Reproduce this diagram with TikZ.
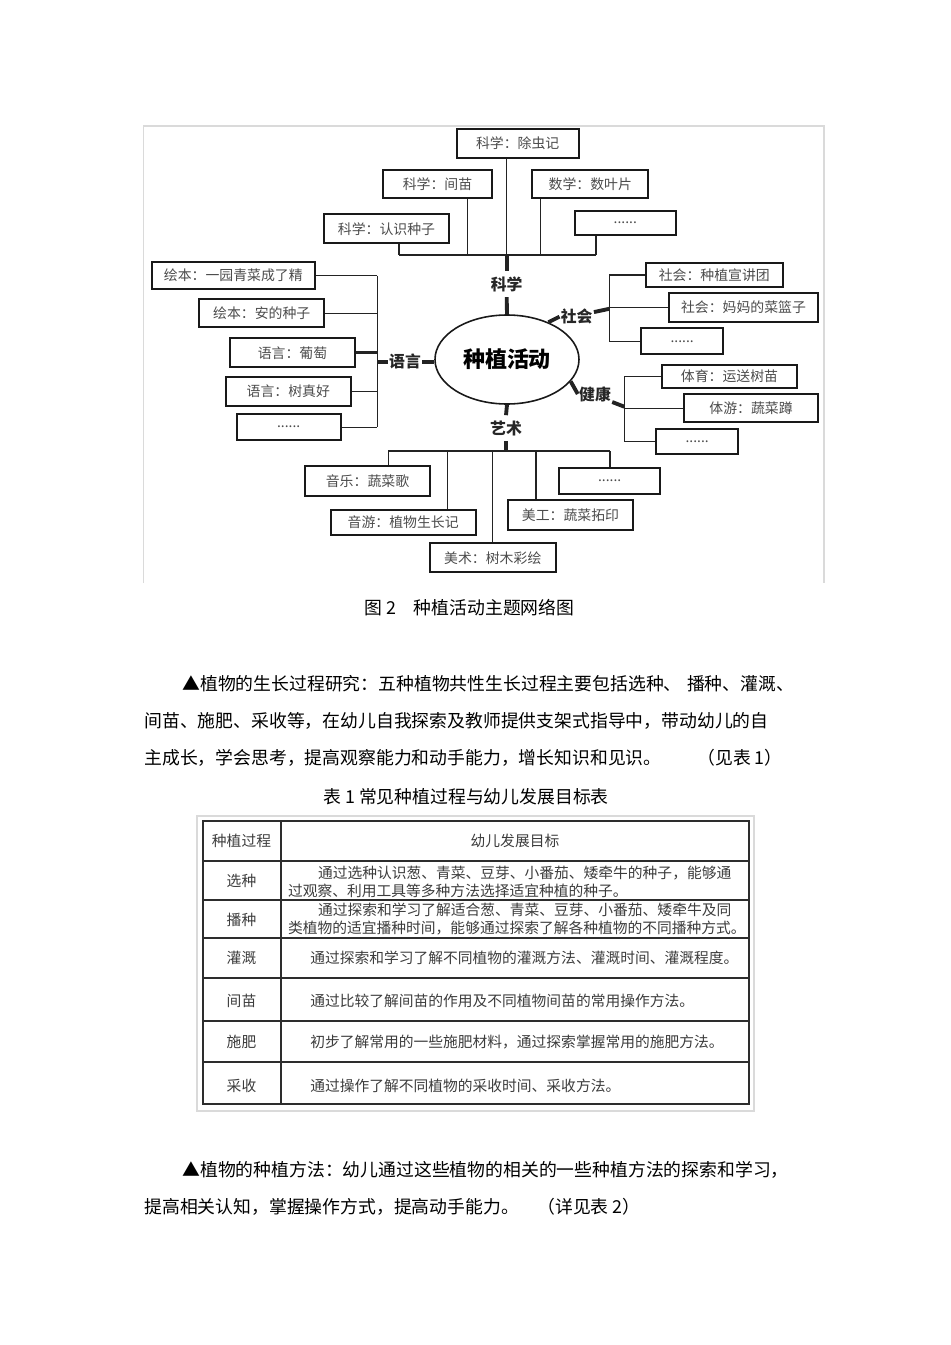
\documentclass[tikz,border=0pt]{standalone}
\usepackage{fontspec}
\setmainfont{Noto Sans CJK SC}
\usetikzlibrary{
  shapes.geometric,
  positioning,
  calc
}
\definecolor{boxline}{RGB}{25, 25, 25}
\definecolor{boxtext}{RGB}{75, 75, 75}
\definecolor{linkcolor}{RGB}{35, 35, 35}
\definecolor{framecolor}{RGB}{218, 218, 218}
\definecolor{tabletext}{RGB}{60, 60, 60}
\definecolor{tableline}{RGB}{45, 45, 45}
\newcommand{\unitpx}{0.02cm}
\tikzset{
boxsize/.style 2 args={
  minimum width=#1*\unitpx,
  minimum height=#2*\unitpx
},
topicbox/.style={
  draw=boxline,
  line width=1.1pt,
  text=boxtext,
  inner sep=0pt,
  font=\fontsize{7.9}{9}\selectfont
},
themenode/.style={
  ellipse,
  draw=boxline,
  line width=0.9pt,
  inner sep=0pt,
  minimum width=144*\unitpx,
  minimum height=89*\unitpx,
  font=\bfseries\fontsize{12.5}{14}\selectfont
},
domainlabel/.style={
  text=black!85,
  inner xsep=0.6pt,
  inner ysep=3pt,
  font=\bfseries\fontsize{9}{10}\selectfont
},
link/.style={
  draw=linkcolor,
  line width=0.75pt
},
thicklink/.style={
  draw=linkcolor,
  line width=2.2pt
},
bodytext/.style={
  anchor=west,
  inner sep=0pt,
  font=\fontsize{10.15}{12}\selectfont
},
celltext/.style={
  text=tabletext,
  inner sep=0pt,
  font=\fontsize{8.4}{10}\selectfont
},
rowtext/.style={
  celltext,
  anchor=west
},
tablerule/.style={
  draw=tableline,
  line width=0.9pt
}
}

\begin{document}
\begin{tikzpicture}[x=0.02cm, y=-0.02cm]
  \useasboundingbox (0,0) rectangle (950,1345);
  % figure frame
  \draw[framecolor, line width=0.6pt] (143.3,583) -- (143.3,126) -- (824,126) -- (824,583);

  \node[themenode] (theme) at (507,359.5) {种植活动};

  % science
  \node[topicbox, boxsize={122}{28.4}] (chuchong) at (517.7,143.5) {科学：除虫记};
  \node[topicbox, boxsize={109.6}{28}] (jianmiao) at (437.5,184) {科学：间苗};
  \node[topicbox, boxsize={116}{28}] (shuye) at (590.3,184) {数学：数叶片};
  \node[topicbox, boxsize={125}{29}] (zhongzi) at (386.5,228.8) {科学：认识种子};
  \node[topicbox, boxsize={100.7}{24.3}] (kxdots) at (625.3,222.8) {......};
  \node[domainlabel] (kexue) at (506.7,284) {科学};
  \coordinate (kxbus) at (506.7,255);
  \coordinate (kx1) at (399,255);
  \coordinate (kx2) at (467.7,255);
  \coordinate (kx3) at (540.7,255);
  \coordinate (kx4) at (596,255);
  \draw[link] (kx1) -- (kx4);
  \draw[link] (zhongzi.south -| kx1) -- (kx1);
  \draw[link] (jianmiao.south -| kx2) -- (kx2);
  \draw[link] (chuchong.south -| kxbus) -- (kxbus);
  \draw[link] (shuye.south -| kx3) -- (kx3);
  \draw[link] (kxdots.south -| kx4) -- (kx4);
  \draw[thicklink] (kxbus) -- (kexue.north);
  \draw[thicklink] (kexue.south) -- (theme.north);

  % language
  \node[topicbox, boxsize={163.3}{27.6}] (yiyuan) at (233.3,275.5) {绘本：一园青菜成了精};
  \node[topicbox, boxsize={125.3}{28.3}] (ande) at (261.7,313.2) {绘本：安的种子};
  \node[topicbox, boxsize={125}{29}] (putao) at (292.5,352.8) {语言：葡萄};
  \node[topicbox, boxsize={125.3}{28.4}] (shuzhen) at (288.3,391.5) {语言：树真好};
  \node[topicbox, boxsize={104}{25.7}] (yydots) at (288.7,427.2) {......};
  \node[domainlabel] (yuyan) at (405,361.7) {语言};
  \coordinate (ybus) at (377.3,361.7);
  \draw[link] (ybus |- yiyuan.east) -- (ybus |- yydots.east);
  \draw[link] (yiyuan.east) -- (yiyuan.east -| ybus);
  \draw[link] (ande.east) -- (ande.east -| ybus);
  \draw[thicklink, line width=1.8pt] (putao.east) -- (putao.east -| ybus);
  \draw[link] (shuzhen.east) -- (shuzhen.east -| ybus);
  \draw[link] (yydots.east) -- (yydots.east -| ybus);
  \draw[thicklink] (ybus) -- (yuyan.west);
  \draw[thicklink] (yuyan.east) -- (yuyan.east -| theme.west);

  % society
  \node[topicbox, boxsize={136.7}{24.6}] (xuanjiang) at (714.3,275) {社会：种植宣讲团};
  \node[topicbox, boxsize={148.4}{28.4}] (cailanzi) at (743.5,307.5) {社会：妈妈的菜篮子};
  \node[topicbox, boxsize={82.3}{26}] (shdots) at (682.2,341.3) {......};
  \node[domainlabel] (shehui) at (576.7,316.7) {社会};
  \coordinate (sbus) at (609.3,308.8);
  \draw[link] (sbus |- xuanjiang.west) -- (sbus |- shdots.west);
  \draw[link] (xuanjiang.west) -- (xuanjiang.west -| sbus);
  \draw[link] (cailanzi.west) -- (cailanzi.west -| sbus);
  \draw[link] (shdots.west) -- (shdots.west -| sbus);
  \draw[thicklink] (theme.42) -- (shehui.west);
  \draw[thicklink] (shehui.15) -- (sbus);

  % health
  \node[topicbox, boxsize={135.6}{23.3}] (yunsong) at (729.5,376.7) {体育：运送树苗};
  \node[topicbox, boxsize={133.4}{28}] (shucaidun) at (751,408.3) {体游：蔬菜蹲};
  \node[topicbox, boxsize={82.3}{25.3}] (jkdots) at (697.2,441.7) {......};
  \node[domainlabel] (jiankang) at (595,394) {健康};
  \coordinate (jbus) at (624.3,406.7);
  \draw[link] (jbus |- yunsong.west) -- (jbus |- jkdots.west);
  \draw[link] (yunsong.west) -- (yunsong.west -| jbus);
  \draw[link] (shucaidun.west) -- (shucaidun.west -| jbus);
  \draw[link] (jkdots.west) -- (jkdots.west -| jbus);
  \draw[thicklink] (theme.-19) -- (jiankang.west);
  \draw[thicklink] (jiankang.-25) -- (jbus);

  % arts
  \node[topicbox, boxsize={125}{30}] (yinyue) at (367.5,481) {音乐：蔬菜歌};
  \node[topicbox, boxsize={145}{25}] (yinyou) at (403.2,522.5) {音游：植物生长记};
  \node[topicbox, boxsize={125.7}{29}] (meishu) at (492.8,557.8) {美术：树木彩绘};
  \node[topicbox, boxsize={125.6}{30}] (meigong) at (570.5,515) {美工：蔬菜拓印};
  \node[topicbox, boxsize={100.7}{25.7}] (ysdots) at (609.7,481.2) {......};
  \node[domainlabel] (yishu) at (506,428.3) {艺术};
  \coordinate (abus) at (506,451);
  \coordinate (a1) at (388.3,451);
  \coordinate (a2) at (447.3,451);
  \coordinate (a3) at (492.3,451);
  \coordinate (a4) at (536,451);
  \coordinate (a5) at (610,451);
  \draw[link] (a1) -- (a5);
  \draw[link] (a1) -- (a1 |- yinyue.north);
  \draw[link] (a2) -- (a2 |- yinyou.north);
  \draw[link] (a3) -- (a3 |- meishu.north);
  \draw[link] (a4) -- (a4 |- meigong.north);
  \draw[link] (a5) -- (a5 |- ysdots.north);
  \draw[thicklink] (theme.south) -- (yishu.north);
  \draw[thicklink] (yishu.south) -- (abus);

  % caption and text
  \node[bodytext] (figcap) at (364,608) {图 2\hspace{1em}种植活动主题网络图};
  \node[bodytext] (para1a) at (182,684) {▲植物的生长过程研究：五种植物共性生长过程主要包括选种、\hspace{0.3em}播种、灌溉、};
  \node[bodytext] (para1b) at (144,721) {间苗、施肥、采收等，在幼儿自我探索及教师提供支架式指导中，带动幼儿的自};
  \node[bodytext] (para1c) at (144,758) {主成长，学会思考，提高观察能力和动手能力，增长知识和见识。};
  \node[bodytext] (see1) at (697,758) {（见表 1）};
  \node[bodytext] (tabcap) at (323,797) {表 1 常见种植过程与幼儿发展目标表};

  % table
  \draw[framecolor, line width=0.6pt] (197,816) rectangle (754,1111);
  \draw[tablerule] (203,821) rectangle (749,1104);
  \draw[tablerule] (281,821) -- (281,1104);
  \foreach \y in {861,900,937.7,978,1020.7,1062}
    \draw[tablerule] (203,\y) -- (749,\y);
  \node[celltext] (head1) at (241.5,841) {种植过程};
  \node[celltext] (head2) at (515,841) {幼儿发展目标};
  \node[celltext] (xuanzhong) at (241.5,880.7) {选种};
  \node[celltext] (bozhong) at (241.5,920) {播种};
  \node[celltext] (guangai) at (241.5,957.7) {灌溉};
  \node[celltext] (jianmiaorow) at (241.5,1000.7) {间苗};
  \node[celltext] (shifei) at (241.5,1042) {施肥};
  \node[celltext] (caishou) at (241.5,1085.7) {采收};
  \node[rowtext] (xz1) at (317.7,873.3) {通过选种认识葱、青菜、豆芽、小番茄、矮牵牛的种子，能够通};
  \node[rowtext] (xz2) at (287.8,890.7) {过观察、利用工具等多种方法选择适宜种植的种子。};
  \node[rowtext] (bz1) at (317.7,910) {通过探索和学习了解适合葱、青菜、豆芽、小番茄、矮牵牛及同};
  \node[rowtext] (bz2) at (287.8,928.3) {类植物的适宜播种时间，能够通过探索了解各种植物的不同播种方式。};
  \node[rowtext] (gg) at (310,957.7) {通过探索和学习了解不同植物的灌溉方法、灌溉时间、灌溉程度。};
  \node[rowtext] (jm) at (310,1000.7) {通过比较了解间苗的作用及不同植物间苗的常用操作方法。};
  \node[rowtext] (sf) at (310,1042) {初步了解常用的一些施肥材料，通过探索掌握常用的施肥方法。};
  \node[rowtext] (cs) at (310,1085.7) {通过操作了解不同植物的采收时间、采收方法。};

  % second paragraph
  \node[bodytext] (para2a) at (182,1170) {▲植物的种植方法：幼儿通过这些植物的相关的一些种植方法的探索和学习，};
  \node[bodytext] (para2b) at (144,1207) {提高相关认知，掌握操作方式，提高动手能力。};
  \node[bodytext] (see2) at (537,1207) {（详见表 2）};
\end{tikzpicture}
\end{document}
